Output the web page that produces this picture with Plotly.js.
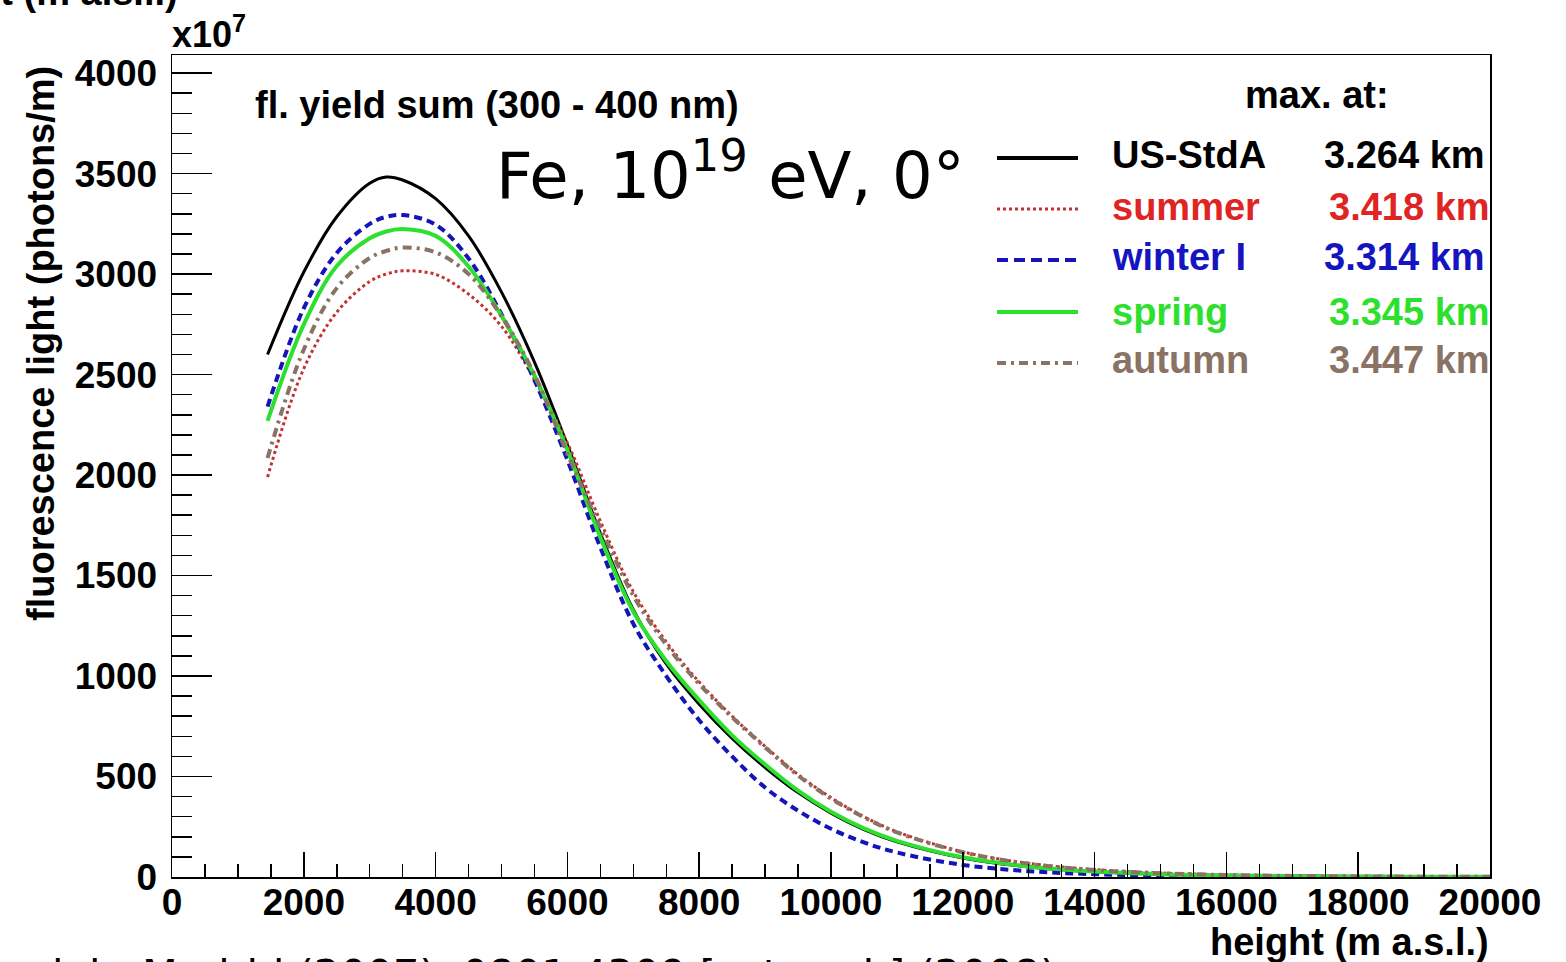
<!DOCTYPE html>
<html>
<head>
<meta charset="utf-8">
<script src="https://cdn.plot.ly/plotly-3.0.1.min.js"></script>
<style>
html,body{margin:0;padding:0;background:#fff;overflow:hidden;}
#chart{width:1566px;height:962px;}
</style>
</head>
<body>
<div id="chart"></div>
<script>
// height (m a.s.l.)
const heights = [1450,2000,2500,3000,3250,3500,4000,4500,5000,5500,6000,6500,7000,7500,8000,8500,9000,9500,10000,10500,11000,12000,13000,14000,15000,16000,17000,18000,19000,20000];
// fluorescence light (x10^7 photons/m)
const usStdA = [2600,3010,3285,3452,3483,3468,3375,3190,2910,2562,2150,1710,1330,1060,860,690,545,420,318,236,175,95,50,26,14,7.5,4,2.2,1.2,0.6];
const summer = [1990,2530,2810,2963,3000,3016,2998,2900,2740,2475,2160,1770,1420,1170,970,800,650,510,395,300,225,125,68,37,20,11,6,3.5,2,1];
const winterI = [2340,2830,3105,3250,3285,3294,3246,3078,2800,2472,2075,1640,1260,1000,780,600,445,330,240,172,122,60,29,14,7,3.5,1.8,0.9,0.5,0.3];
const spring = [2270,2750,3040,3178,3212,3224,3190,3038,2792,2495,2125,1690,1320,1075,880,705,560,430,325,242,180,98,52,27,14,8,4.5,2.5,1.3,0.7];
const autumn = [2085,2625,2930,3080,3115,3132,3108,3000,2790,2500,2105,1740,1400,1155,960,795,645,505,390,297,222,123,66,35,19,10,5.5,3,1.6,0.8];

const seriesNames = ["US-StdA","summer","winter I","spring","autumn"];
const maxAt = ["3.264 km","3.418 km","3.314 km","3.345 km","3.447 km"];
const lineColors = ["#000000","#c43030","#1414b8","#2ee02e","#8a7264"];
const textColors = ["#000000","#e02424","#1414c0","#2ee02e","#8a7264"];
const dashes = ["solid","3px,3px","8px,5px","solid","9px,5px,3px,5px"];
const widths = [3,3,4,4,4];
const seriesData = [usStdA, summer, winterI, spring, autumn];

const W = 1566, H = 962;
const L = 172, R = 1490, T = 55, B = 877;
const px2x = p => (p - L) / (R - L);
const px2y = p => 1 + (T - p) / (B - T);

const bold = {family: "Liberation Sans, Arial, sans-serif", size: 38, color: "#000", weight: 700};

const traces = seriesData.map((d, i) => ({
  x: heights, y: d, type: "scatter", mode: "lines", name: seriesNames[i],
  line: {color: lineColors[i], width: widths[i], dash: dashes[i], shape: "spline", smoothing: 1},
  hoverinfo: "skip"
}));

const annotations = [];
const shapes = [];
function ann(text, xp, yp, xanchor, yanchor, font, extra) {
  annotations.push(Object.assign({
    text: text, xref: "paper", yref: "paper", x: px2x(xp), y: px2y(yp),
    xanchor: xanchor, yanchor: yanchor, showarrow: false, font: font
  }, extra || {}));
}
ann("x10<sup>7</sup>", 170, 57, "left", "bottom", Object.assign({}, bold, {size: 36}));
ann("fl. yield sum (300 - 400 nm)", 253, 105, "left", "middle", bold);
ann("Fe, 10<sup>19</sup> eV, 0°", 494, 215, "left", "bottom", {family: "DejaVu Sans, sans-serif", size: 64, color: "#000"});
ann("max. at:", 1243, 95, "left", "middle", bold);
ann("fluorescence light (photons/m)", 41, 344, "center", "middle", bold, {textangle: -90});
ann("height (m a.s.l.)", 1491, 942, "right", "middle", bold);
// neighbouring slide content, clipped by the page
ann("height (m a.s.l.)", 180, 15, "right", "bottom", bold);
ann("El Escorial - Madrid (2007), 0801.4309 [astro-ph] (2008)", 1058, 948, "right", "top", {family: "DejaVu Sans, sans-serif", size: 41.5, color: "#000"});

const rowY = [155, 207, 257, 312, 360];
const lineY = [158, 209, 260, 312, 363];
const valX = [1322, 1327, 1322, 1327, 1327];
seriesNames.forEach((n, i) => {
  ann(n, 1110, rowY[i], "left", "middle", Object.assign({}, bold, {color: textColors[i]}));
  ann(maxAt[i], valX[i], rowY[i], "left", "middle", Object.assign({}, bold, {color: textColors[i]}));
  shapes.push({type: "line", xref: "paper", yref: "paper",
    x0: px2x(997), x1: px2x(1078), y0: px2y(lineY[i]), y1: px2y(lineY[i]),
    line: {color: lineColors[i], width: widths[i] + (i === 0 ? 1 : 0), dash: i === 2 ? "11px,6px" : dashes[i]}});
});

const tickFont = {family: "Liberation Sans, Arial, sans-serif", size: 37, color: "#000", weight: 700};

const layout = {
  width: W, height: H,
  margin: {l: L, r: W - R, t: T, b: H - B, pad: 0},
  paper_bgcolor: "#fff", plot_bgcolor: "#fff",
  showlegend: false,
  xaxis: {
    range: [0, 20000], tickvals: [0,2000,4000,6000,8000,10000,12000,14000,16000,18000,20000],
    ticktext: ["0","2000","4000","6000","8000","10000","12000","14000","16000","18000","20000"],
    ticks: "inside", ticklen: 25, tickwidth: 1.5, tickcolor: "#000",
    minor: {dtick: 500, tick0: 0, ticks: "inside", ticklen: 13, tickwidth: 1.5, tickcolor: "#000", showgrid: false},
    showline: true, mirror: true, linecolor: "#000", linewidth: 1.5,
    showgrid: false, zeroline: false, tickfont: tickFont, ticklabelstandoff: -8
  },
  yaxis: {
    range: [0, 4090], tickvals: [0,500,1000,1500,2000,2500,3000,3500,4000],
    ticktext: ["0","500","1000","1500","2000","2500","3000","3500","4000"],
    ticks: "inside", ticklen: 40, tickwidth: 1.5, tickcolor: "#000",
    minor: {dtick: 100, tick0: 0, ticks: "inside", ticklen: 20, tickwidth: 1.5, tickcolor: "#000", showgrid: false},
    showline: true, mirror: true, linecolor: "#000", linewidth: 1.5,
    showgrid: false, zeroline: false, tickfont: tickFont, ticklabelstandoff: 6
  },
  annotations: annotations,
  shapes: shapes
};

Plotly.newPlot("chart", traces, layout, {staticPlot: true, displayModeBar: false});
</script>
</body>
</html>
